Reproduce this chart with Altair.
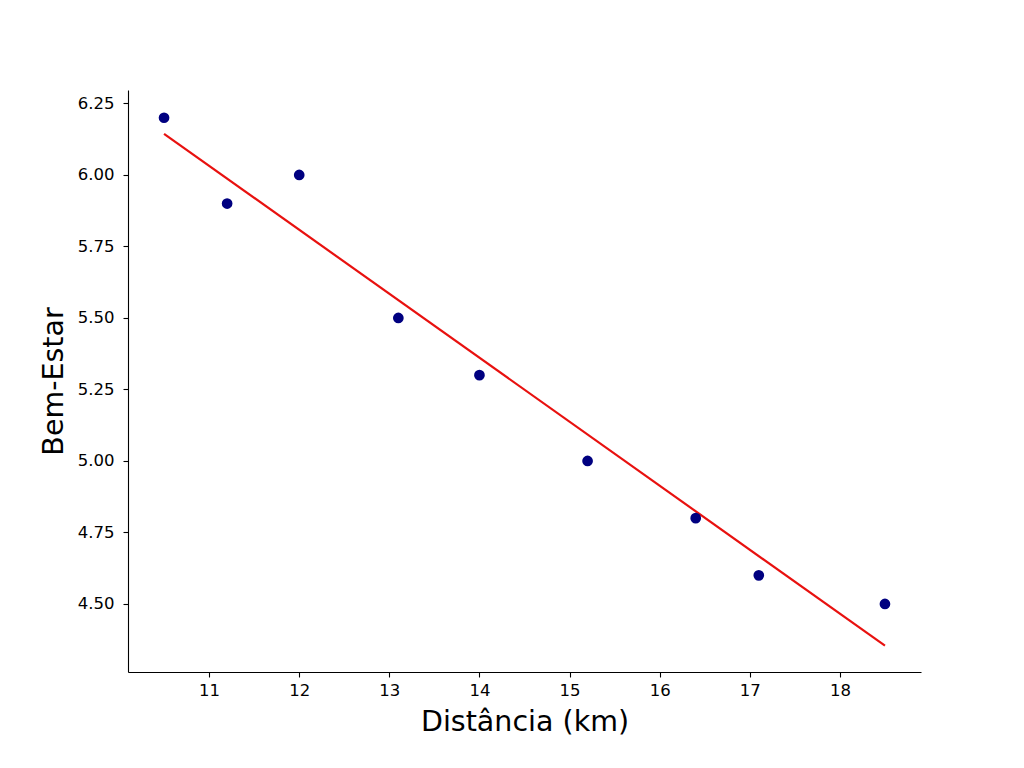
import pandas as pd
import altair as alt

distancia = [10.5, 11.2, 12.0, 13.1, 14.0, 15.2, 16.4, 17.1, 18.5]
bem_estar = [6.2, 5.9, 6.0, 5.5, 5.3, 5.0, 4.8, 4.6, 4.5]
x_ticks = [11, 12, 13, 14, 15, 16, 17, 18]
y_ticks = [4.50, 4.75, 5.00, 5.25, 5.50, 5.75, 6.00, 6.25]

df = pd.DataFrame({'distancia': distancia, 'bem_estar': bem_estar})

x_enc = alt.X('distancia:Q', title='Distância (km)',
              scale=alt.Scale(domain=[10.1, 18.9], nice=False, zero=False),
              axis=alt.Axis(values=x_ticks, format='d', grid=False))
y_enc = alt.Y('bem_estar:Q', title='Bem-Estar',
              scale=alt.Scale(domain=[4.262, 6.297], nice=False, zero=False),
              axis=alt.Axis(values=y_ticks, format='.2f', grid=False))

base = alt.Chart(df)

points = base.mark_circle(size=115, opacity=1, color='#000080').encode(
    x=x_enc, y=y_enc)

line = base.transform_regression('distancia', 'bem_estar').mark_line(
    color='#e8110f', strokeWidth=2.2).encode(x=x_enc, y=y_enc)

chart = alt.layer(line, points).properties(
    width=793, height=582,
    autosize=alt.AutoSizeParams(type='none'),
    padding={'left': 120, 'top': 82, 'right': 95, 'bottom': 80},
).configure_view(stroke=None).configure_axis(
    domainColor='#000000', domainWidth=1.1,
    tickColor='#000000', tickWidth=1.1, tickSize=5,
    labelFont='DejaVu Sans', labelFontSize=16.5, labelColor='#000000',
    titleFont='DejaVu Sans', titleFontSize=28.5, titleFontWeight='normal',
    titleColor='#000000',
).configure_axisX(labelPadding=5, titlePadding=9).configure_axisY(
    labelPadding=9, titlePadding=9)

chart.save("out.html", embed_options={"renderer": "svg", "actions": False})
